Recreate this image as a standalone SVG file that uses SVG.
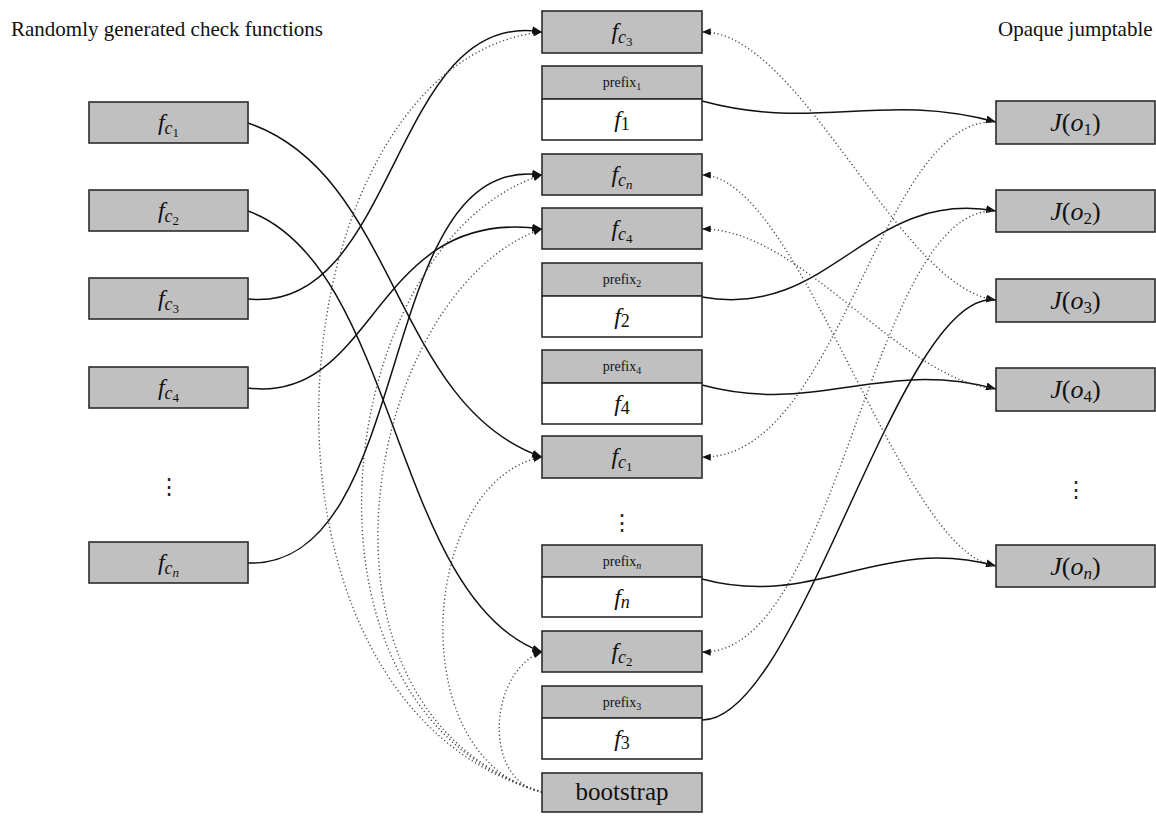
<svg xmlns="http://www.w3.org/2000/svg" width="1156" height="833" viewBox="0 0 1156 833">
<defs>
<style>
.box{fill:#c0c0c0;stroke:#2b2b2b;stroke-width:1.6}
.wbox{fill:#fff;stroke:#2b2b2b;stroke-width:1.6}
.s{fill:none;stroke:#111;stroke-width:1.5;marker-end:url(#ah)}
.d{fill:none;stroke:#4a4a4a;stroke-width:1.4;stroke-dasharray:1.2 2.6;marker-end:url(#ahd)}
.t{font-family:'Liberation Serif','DejaVu Serif',serif;fill:#111;text-anchor:middle}
.ttl{font-family:'Liberation Serif','DejaVu Serif',serif;fill:#111;font-size:21px}
.m{font-size:24px}
.i{font-style:italic}
.sb{font-size:18px;font-style:italic}
.sn{font-size:18px}
.ss{font-size:13px}
.j{font-size:26px}
.js{font-size:17px}
.p{font-size:14px}
.ps{font-size:10px}
.dots{font-family:'DejaVu Serif',serif;font-size:22px;fill:#222;text-anchor:middle}
</style>
<marker id="ah" viewBox="0 0 10 8" refX="10" refY="4" markerWidth="10" markerHeight="8" markerUnits="userSpaceOnUse" orient="auto"><path d="M0,0 L10,4 L0,8 z" fill="#111"/></marker>
<marker id="ahd" viewBox="0 0 10 8" refX="10" refY="4" markerWidth="9" markerHeight="7" markerUnits="userSpaceOnUse" orient="auto"><path d="M0,0 L10,4 L0,8 z" fill="#111"/></marker>
</defs>
<rect width="1156" height="833" fill="#fff"/>

<text class="ttl" x="11" y="36">Randomly generated check functions</text>
<text class="ttl" x="998" y="36">Opaque jumptable</text>

<g id="connectors">
<!-- left to middle -->
<path class="s" d="M248,123 C398,174 392,405 542,457"/>
<path class="s" d="M248,211 C398,265 392,598 542,652"/>
<path class="s" d="M248,299 C398,315 392,6 542,32"/>
<path class="s" d="M248,388 C378,404 372,205 542,229"/>
<path class="s" d="M248,563 C418,568 372,151 542,175"/>
<!-- middle to right -->
<path class="s" d="M702,101 C817,132 881,91 996,122"/>
<path class="s" d="M702,297 C832,320 866,188 996,211"/>
<path class="s" d="M702,385 C817,416 881,358 996,389"/>
<path class="s" d="M702,579 C817,610 881,534 996,566"/>
<path class="s" d="M702,720 C800,722 900,285 996,300"/>
<!-- jumptable to check functions (dotted) -->
<path class="d" d="M996,122 C880,115 840,460 702,457"/>
<path class="d" d="M996,211 C870,205 840,655 702,652"/>
<path class="d" d="M996,300 C900,290 800,30 702,32"/>
<path class="d" d="M996,389 C900,380 800,228 702,229"/>
<path class="d" d="M996,566 C900,555 800,175 702,175"/>
<!-- bootstrap to check functions (dotted) -->
<path class="d" d="M542,792 C215,700 275,60 542,32"/>
<path class="d" d="M542,792 C270,710 335,240 542,175"/>
<path class="d" d="M542,792 C285,710 365,290 542,229"/>
<path class="d" d="M542,792 C400,760 420,480 542,457"/>
<path class="d" d="M542,792 C480,780 490,670 542,652"/>
</g>

<!-- left column -->
<g id="L_fc1"><rect class="box" x="89" y="102" width="159" height="41"/><text class="t m" x="168.5" y="130"><tspan class="i">f</tspan><tspan class="sb" dy="4">c</tspan><tspan class="ss" dy="3">1</tspan></text></g>
<g id="L_fc2"><rect class="box" x="89" y="190" width="159" height="41"/><text class="t m" x="168.5" y="218"><tspan class="i">f</tspan><tspan class="sb" dy="4">c</tspan><tspan class="ss" dy="3">2</tspan></text></g>
<g id="L_fc3"><rect class="box" x="89" y="278" width="159" height="41"/><text class="t m" x="168.5" y="306"><tspan class="i">f</tspan><tspan class="sb" dy="4">c</tspan><tspan class="ss" dy="3">3</tspan></text></g>
<g id="L_fc4"><rect class="box" x="89" y="367" width="159" height="41"/><text class="t m" x="168.5" y="395"><tspan class="i">f</tspan><tspan class="sb" dy="4">c</tspan><tspan class="ss" dy="3">4</tspan></text></g>
<g id="L_dots"><text class="dots" x="168.5" y="494">⋮</text></g>
<g id="L_fcn"><rect class="box" x="89" y="542" width="159" height="41"/><text class="t m" x="168.5" y="570"><tspan class="i">f</tspan><tspan class="sb" dy="4">c</tspan><tspan class="ss i" dy="3">n</tspan></text></g>

<!-- middle column -->
<g id="M_fc3"><rect class="box" x="542" y="11" width="160" height="42"/><text class="t m" x="622" y="39"><tspan class="i">f</tspan><tspan class="sb" dy="4">c</tspan><tspan class="ss" dy="3">3</tspan></text></g>
<g id="M_f1"><rect class="box" x="542" y="66" width="160" height="33"/><rect class="wbox" x="542" y="99" width="160" height="41"/><text class="t p" x="622" y="87">prefix<tspan class="ps" dy="3">1</tspan></text><text class="t m" x="622" y="127"><tspan class="i">f</tspan><tspan class="sn" dy="3">1</tspan></text></g>
<g id="M_fcn"><rect class="box" x="542" y="154" width="160" height="41"/><text class="t m" x="622" y="182"><tspan class="i">f</tspan><tspan class="sb" dy="4">c</tspan><tspan class="ss i" dy="3">n</tspan></text></g>
<g id="M_fc4"><rect class="box" x="542" y="208" width="160" height="41"/><text class="t m" x="622" y="236"><tspan class="i">f</tspan><tspan class="sb" dy="4">c</tspan><tspan class="ss" dy="3">4</tspan></text></g>
<g id="M_f2"><rect class="box" x="542" y="263" width="160" height="33"/><rect class="wbox" x="542" y="296" width="160" height="41"/><text class="t p" x="622" y="284">prefix<tspan class="ps" dy="3">2</tspan></text><text class="t m" x="622" y="324"><tspan class="i">f</tspan><tspan class="sn" dy="3">2</tspan></text></g>
<g id="M_f4"><rect class="box" x="542" y="350" width="160" height="33"/><rect class="wbox" x="542" y="383" width="160" height="41"/><text class="t p" x="622" y="371">prefix<tspan class="ps" dy="3">4</tspan></text><text class="t m" x="622" y="411"><tspan class="i">f</tspan><tspan class="sn" dy="3">4</tspan></text></g>
<g id="M_fc1"><rect class="box" x="542" y="436" width="160" height="42"/><text class="t m" x="622" y="464"><tspan class="i">f</tspan><tspan class="sb" dy="4">c</tspan><tspan class="ss" dy="3">1</tspan></text></g>
<g id="M_dots"><text class="dots" x="622" y="530">⋮</text></g>
<g id="M_fn"><rect class="box" x="542" y="545" width="160" height="32"/><rect class="wbox" x="542" y="577" width="160" height="40"/><text class="t p" x="622" y="566">prefix<tspan class="ps i" dy="3">n</tspan></text><text class="t m" x="622" y="605"><tspan class="i">f</tspan><tspan class="sb" dy="3">n</tspan></text></g>
<g id="M_fc2"><rect class="box" x="542" y="631" width="160" height="41"/><text class="t m" x="622" y="659"><tspan class="i">f</tspan><tspan class="sb" dy="4">c</tspan><tspan class="ss" dy="3">2</tspan></text></g>
<g id="M_f3"><rect class="box" x="542" y="686" width="160" height="32"/><rect class="wbox" x="542" y="718" width="160" height="41"/><text class="t p" x="622" y="707">prefix<tspan class="ps" dy="3">3</tspan></text><text class="t m" x="622" y="746"><tspan class="i">f</tspan><tspan class="sn" dy="3">3</tspan></text></g>
<g id="M_bootstrap"><rect class="box" x="542" y="773" width="160" height="39"/><text class="t" x="622" y="800" font-size="25">bootstrap</text></g>

<!-- right column -->
<g id="R_J1"><rect class="box" x="996" y="101" width="159" height="43"/><text class="t j" x="1075.5" y="131"><tspan class="i">J</tspan>(<tspan class="i">o</tspan><tspan class="js" dy="4">1</tspan><tspan dy="-4">)</tspan></text></g>
<g id="R_J2"><rect class="box" x="996" y="190" width="159" height="42"/><text class="t j" x="1075.5" y="220"><tspan class="i">J</tspan>(<tspan class="i">o</tspan><tspan class="js" dy="4">2</tspan><tspan dy="-4">)</tspan></text></g>
<g id="R_J3"><rect class="box" x="996" y="279" width="159" height="43"/><text class="t j" x="1075.5" y="309"><tspan class="i">J</tspan>(<tspan class="i">o</tspan><tspan class="js" dy="4">3</tspan><tspan dy="-4">)</tspan></text></g>
<g id="R_J4"><rect class="box" x="996" y="368" width="159" height="43"/><text class="t j" x="1075.5" y="398"><tspan class="i">J</tspan>(<tspan class="i">o</tspan><tspan class="js" dy="4">4</tspan><tspan dy="-4">)</tspan></text></g>
<g id="R_dots"><text class="dots" x="1075.5" y="497">⋮</text></g>
<g id="R_Jn"><rect class="box" x="996" y="545" width="159" height="42"/><text class="t j" x="1075.5" y="575"><tspan class="i">J</tspan>(<tspan class="i">o</tspan><tspan class="js i" dy="4">n</tspan><tspan dy="-4">)</tspan></text></g>
</svg>
